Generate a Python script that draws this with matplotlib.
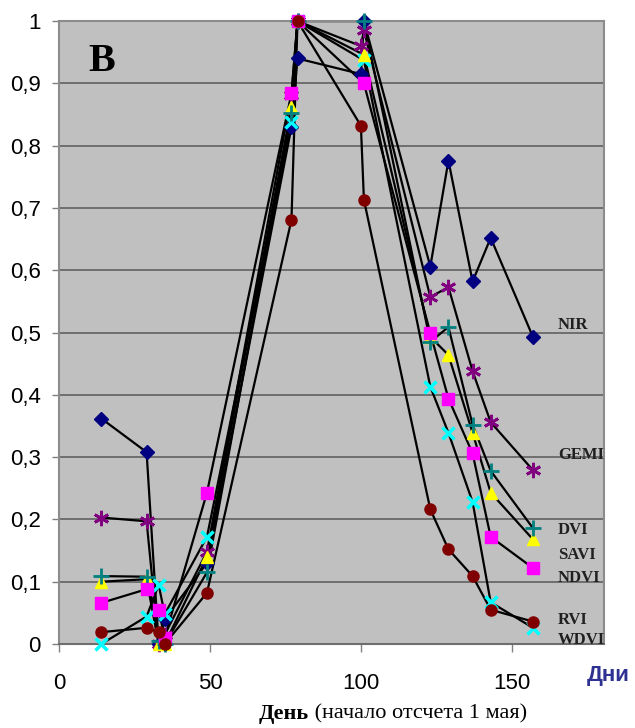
import numpy as np
import matplotlib
matplotlib.use("Agg")
import matplotlib.pyplot as plt

# days since 1 May
days = [14, 29, 33, 35, 49, 77, 79, 100, 101, 123, 129, 137, 143, 157]
N = None
nir  = [0.362, 0.308, 0.0, 0.040, 0.130, 0.830, 0.940, 0.915, 1.000, 0.606, 0.776, 0.582, 0.652, 0.493]
gemi = [0.203, 0.197, 0.0, 0.015, 0.148, 0.882, 1.000, 0.960, 0.985, 0.557, 0.573, 0.438, 0.356, 0.279]
dvi  = [0.109, 0.108, 0.005, 0.0, 0.115, 0.853, 1.000, N, 1.000, 0.485, 0.509, 0.352, 0.278, 0.186]
savi = [0.100, 0.104, 0.0, 0.0, 0.140, 0.862, 1.000, N, 0.946, 0.493, 0.464, 0.339, 0.243, 0.168]
ndvi = [0.066, 0.088, 0.055, 0.010, 0.243, 0.884, 1.000, N, 0.900, 0.499, 0.394, 0.306, 0.172, 0.122]
wdvi = [0.0, 0.044, 0.095, 0.048, 0.172, 0.838, 1.000, N, 0.937, 0.413, 0.339, 0.228, 0.067, 0.026]
rvi  = [0.019, 0.026, 0.019, 0.0, 0.082, 0.681, 1.000, 0.832, 0.713, 0.216, 0.152, 0.109, 0.055, 0.036]

names = ["NIR", "GEMI", "DVI", "SAVI", "NDVI", "RVI", "WDVI"]
yticks = [0, 0.1, 0.2, 0.3, 0.4, 0.5, 0.6, 0.7, 0.8, 0.9, 1]
ytick_labels = ["0", "0,1", "0,2", "0,3", "0,4", "0,5", "0,6", "0,7", "0,8", "0,9", "1"]
xticks = [0, 50, 100, 150]

narrow = ["Liberation Sans Narrow", "Liberation Sans", "DejaVu Sans"]
serif = ["Liberation Serif", "DejaVu Serif"]

fig = plt.figure(figsize=(6.35, 7.28), dpi=100)
ax = fig.add_axes([0.093, 0.1154, 0.858, 0.8556])
ax.set_facecolor("#C0C0C0")

# series: values, marker, colour, size, edge width
series = [
    (nir,  "D", "#000080", 7, 1.0),
    (gemi, (6, 2, 0), "#800080", 11, 2.0),
    (wdvi, "x", "#00FFFF", 9, 2.5),
    (savi, "^", "#FFFF00", 8, 1.0),
    (dvi,  "+", "#008080", 11, 2.0),
    (ndvi, "s", "#FF00FF", 9, 1.0),
    (rvi,  "o", "#800000", 8, 1.0),
]
x_all = np.array(days, dtype=float)
for vals, mk, col, ms, mew in series:
    y = np.array([np.nan if v is None else v for v in vals], dtype=float)
    ok = ~np.isnan(y)
    ax.plot(x_all[ok], y[ok], color="black", lw=1.6, zorder=2, clip_on=False)
    if mk in ("x", "+") or isinstance(mk, tuple):
        ax.plot(x_all[ok], y[ok], ls="none", marker=mk, ms=ms, mew=mew,
                color=col, zorder=3, clip_on=False)
    else:
        ax.plot(x_all[ok], y[ok], ls="none", marker=mk, ms=ms, mfc=col,
                mec=col, zorder=3, clip_on=False)

ax.set_xlim(0, 180.5)
ax.set_ylim(0, 1)
ax.set_yticks(yticks)
ax.set_yticklabels(ytick_labels, family=narrow, fontsize=16)
ax.set_xticks(xticks)
ax.set_xticklabels([str(t) for t in xticks], family=narrow, fontsize=16)
ax.tick_params(axis="y", length=5, width=1, color="#808080", pad=8)
ax.tick_params(axis="x", length=6, width=1, color="#808080", pad=15)
ax.grid(axis="y", color="#6E6E6E", lw=1.4, zorder=1)
ax.set_axisbelow(True)
for s in ["top", "right", "left"]:
    ax.spines[s].set_color("#8C8C8C")
    ax.spines[s].set_linewidth(1.5)
ax.spines["bottom"].set_color("#6E6E6E")
ax.spines["bottom"].set_linewidth(1.5)

# panel letter
ax.text(14, 0.935, "В", family=serif, fontsize=29, fontweight="bold",
        ha="center", va="center")

# series names on the right
label_y = [0.512, 0.303, 0.183, 0.143, 0.106, 0.039, 0.006]
for name, ly in zip(names, label_y):
    ax.text(165.3, ly, name, family=serif, fontsize=12, fontweight="bold",
            color="#202020", ha="left", va="center", clip_on=False)

# axis title: bold "День" followed by regular text
t1 = fig.text(0.407, 0.013, "День", family=serif, fontsize=16,
              fontweight="bold", ha="left", va="baseline")
ax.annotate(" (начало отсчета 1 мая)", xy=(1, 0), xycoords=t1,
            family=serif, fontsize=16, ha="left", va="bottom")

fig.text(0.992, 0.072, "Дни", family=["Liberation Sans", "DejaVu Sans"],
         fontsize=16, fontweight="bold", color="#2E3192", ha="right",
         va="center")

fig.savefig("out.png", dpi=100)
